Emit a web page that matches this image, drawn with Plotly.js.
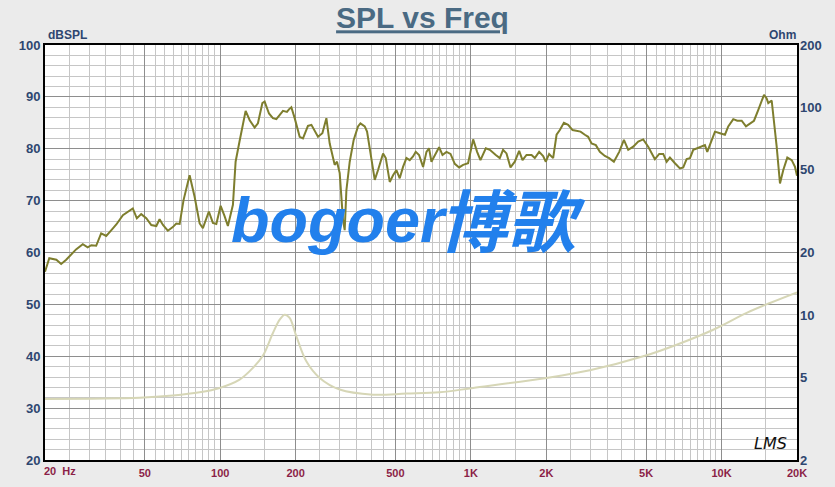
<!DOCTYPE html>
<html>
<head>
<meta charset="utf-8">
<script src="https://cdn.plot.ly/plotly-3.0.1.min.js"></script>
<style>
html,body{margin:0;padding:0;background:#EBEBEB;}
#chart{width:835px;height:487px;}
</style>
</head>
<body>
<div id="chart"></div>
<script>
// SPL response (Hz, dB SPL)
const splFreq = [20, 20.8, 22.2, 23.2, 24.3, 25.4, 26.6, 28.3, 29.6, 30.6,
  32.0, 33.5, 35.1, 36.8, 38.5, 40.9, 42.8, 44.8, 46.5, 48.4,
  50.7, 53.1, 55.6, 57.3, 59.1, 61.8, 64.7, 66.8, 68.9, 71.4,
  75.5, 79.0, 82.8, 85.3, 90.1, 93.5, 96.5, 100.4, 104.1, 107.3,
  112.4, 115.2, 119.5, 126.3, 131.1, 137.2, 141.4, 147.3, 150.4, 156.5,
  162.3, 167.5, 178, 184.6, 188.1, 192.2, 198.2, 207.5, 213.9, 223.9,
  231.1, 238.2, 245.5, 255.6, 265.2, 273.4, 286.2, 292.4, 299.7, 308.9,
  313.8, 318.7, 328.6, 340.8, 354.6, 362.6, 377.2, 385.3, 401.2, 413.6,
  426.3, 446.4, 457.6, 474.6, 489.3, 504.6, 520.2, 536.2, 553.4, 570.3,
  587.8, 602.6, 621.2, 644.6, 665, 681, 696.2, 717.6, 746.7, 770.4,
  799.3, 829.4, 862.7, 897.4, 931.2, 974.8, 1021, 1059, 1092, 1147,
  1190, 1257, 1304, 1344, 1387, 1439, 1497, 1558, 1607, 1667,
  1746, 1799, 1872, 1942, 1991, 2052, 2129, 2197, 2264, 2350,
  2444, 2545, 2640, 2738, 2849, 2937, 3030, 3152, 3270, 3424,
  3562, 3720, 3906, 4079, 4243, 4443, 4652, 4870, 5099, 5422,
  5642, 5853, 6039, 6224, 6517, 6823, 7034, 7257, 7482, 7711,
  7998, 8329, 8585, 8770, 8990, 9414, 9856, 10319, 10636, 11137,
  11554, 12032, 12516, 12985, 13472, 14016, 14460, 14770, 15136, 15361,
  15849, 16086, 16594, 17106, 17634, 18296, 19052, 19636, 20000];
const splDb = [56.3, 58.9, 58.6, 57.8, 58.6, 59.5, 60.6, 61.6, 61.0, 61.4,
  61.3, 63.7, 63.2, 64.3, 65.4, 67.2, 67.9, 68.5, 66.6, 67.4,
  66.6, 65.3, 65.1, 66.4, 65.3, 64.2, 64.9, 65.6, 65.5, 70.1,
  74.9, 70.8, 65.6, 64.7, 67.9, 65.7, 65.5, 69.0, 67.0, 65.1,
  69.2, 77.5, 81.5, 87.3, 85.5, 84.1, 84.9, 88.8, 89.1, 86.8,
  85.9, 85.7, 87.3, 87.1, 87.6, 88.0, 85.9, 82.3, 82.0, 84.4,
  84.6, 83.3, 82.3, 83.0, 85.9, 81.0, 76.9, 77.5, 75.3, 66.3,
  64.3, 72.0, 77.5, 81.7, 84.3, 84.9, 84.3, 83.3, 77.8, 74.0,
  75.9, 79.1, 78.2, 73.6, 74.9, 75.9, 74.3, 76.5, 78.2, 77.8,
  78.5, 79.4, 78.8, 76.5, 79.4, 80.1, 77.5, 78.8, 80.3, 78.8,
  79.4, 79.0, 77.1, 76.4, 76.9, 77.2, 81.8, 79.4, 77.8, 80.1,
  79.8, 78.8, 78.2, 79.8, 79.1, 76.4, 77.5, 79.6, 77.8, 78.8,
  78.8, 78.2, 79.4, 78.6, 77.5, 79.0, 78.2, 82.7, 83.6, 85.0,
  84.6, 83.6, 83.5, 83.3, 82.7, 82.3, 81.0, 80.7, 79.4, 78.6,
  78.2, 77.5, 79.4, 81.7, 79.8, 80.4, 81.4, 81.8, 80.4, 78.0,
  79.0, 79.0, 77.5, 78.3, 77.2, 76.2, 76.4, 78.0, 78.2, 79.8,
  80.1, 80.5, 80.7, 79.4, 80.7, 83.3, 83.0, 82.7, 84.3, 85.7,
  85.4, 85.4, 84.3, 84.8, 85.4, 87.5, 89.4, 90.4, 89.7, 88.8,
  89.3, 86.8, 80.4, 73.3, 75.9, 78.3, 77.8, 76.5, 74.8];

// Impedance (Hz, Ohm)
const impFreq = [20, 47.7, 64.7, 82.8, 99.5, 119.5, 135.1, 148.1, 162.3, 172.7,
  180.8, 189.2, 201.3, 220.6, 249.4, 299.7, 407, 553, 751, 1021,
  2004, 2984, 4870, 6622, 9268, 12596, 15606, 20000];
const impOhm = [3.94, 3.99, 4.09, 4.24, 4.45, 4.88, 5.56, 6.37, 8.19, 9.49,
  10.03, 9.67, 7.89, 5.98, 4.97, 4.37, 4.13, 4.18, 4.24, 4.45,
  4.97, 5.41, 6.32, 7.19, 8.49, 10.23, 11.42, 12.85];

// Axis ticks
const xTickVals = [20, 50, 100, 200, 500, 1000, 2000, 5000, 10000, 20000];
const xTickText = ['', '50', '100', '200', '500', '1K', '2K', '5K', '10K', '20K'];
const dbTickVals = [20, 30, 40, 50, 60, 70, 80, 90, 100];
const ohmTickVals = [2, 5, 10, 20, 50, 100, 200];
const ohmTickText = ['2', '5', '10', '20', '50', '100', '200'];

// minor vertical grid: half-steps within each decade
const xMinorVals = [];
[[10, 20, 100], [100, 100, 1000], [1000, 1000, 10000], [10000, 10000, 20000]].forEach(function (d) {
  for (let m = 1; m <= 10; m += 0.5) {
    const v = d[0] * m;
    if (v > d[1] && v < d[2] && xTickVals.indexOf(v) < 0) xMinorVals.push(v);
  }
});

const FONT = 'Liberation Sans, Arial, sans-serif';
const NAVY = '#2E4670';
const MAROON = '#8B1F47';

const traces = [
  {
    x: impFreq, y: impOhm, yaxis: 'y2', type: 'scatter', mode: 'lines',
    line: {color: '#D6D6B6', width: 2, shape: 'spline', smoothing: 1},
    hoverinfo: 'skip'
  },
  {
    x: splFreq, y: splDb, yaxis: 'y', type: 'scatter', mode: 'lines',
    line: {color: '#7E7E2E', width: 2},
    hoverinfo: 'skip'
  }
];

const layout = {
  width: 835, height: 487,
  margin: {l: 45, r: 38, t: 45, b: 27, pad: 0},
  paper_bgcolor: '#EBEBEB',
  plot_bgcolor: '#FFFFFF',
  showlegend: false,
  font: {family: FONT},
  title: {
    text: '<u>SPL vs Freq</u>',
    font: {family: FONT, size: 30, color: '#4A6A83', weight: 'bold'},
    xref: 'container', x: 0.506, xanchor: 'center',
    yref: 'container', y: 0.9634, yanchor: 'middle'
  },
  xaxis: {
    type: 'log',
    range: [Math.log10(20), Math.log10(20000)],
    tickmode: 'array', tickvals: xTickVals, ticktext: xTickText,
    ticks: '', ticklabelstandoff: 2,
    tickfont: {family: FONT, size: 11, color: MAROON, weight: 'bold'},
    showgrid: true, gridcolor: '#8E8E8E', gridwidth: 1,
    minor: {tickmode: 'array', tickvals: xMinorVals, showgrid: true, gridcolor: '#C6C6C6', gridwidth: 1, ticks: ''},
    showline: true, linecolor: '#000000', linewidth: 2, mirror: true,
    zeroline: false, fixedrange: true
  },
  yaxis: {
    range: [20, 100],
    tickmode: 'array', tickvals: dbTickVals,
    ticks: '',
    tickfont: {family: FONT, size: 13, color: NAVY, weight: 'bold'},
    showgrid: true, gridcolor: '#8E8E8E', gridwidth: 1,
    minor: {dtick: 2, showgrid: true, gridcolor: '#C6C6C6', gridwidth: 1, ticks: ''},
    showline: true, linecolor: '#000000', linewidth: 2, mirror: true,
    zeroline: false, fixedrange: true
  },
  yaxis2: {
    type: 'log', overlaying: 'y', side: 'right',
    range: [Math.log10(2), Math.log10(200)],
    tickmode: 'array', tickvals: ohmTickVals, ticktext: ohmTickText,
    ticks: '', ticklabelstandoff: 2,
    tickfont: {family: FONT, size: 13, color: NAVY, weight: 'bold'},
    showgrid: false, zeroline: false, showline: false, fixedrange: true
  },
  annotations: [
    {text: 'dBSPL', xref: 'paper', yref: 'paper', x: 0, y: 1, xanchor: 'left', yanchor: 'middle',
     xshift: 1, yshift: 10, showarrow: false,
     font: {family: FONT, size: 12, color: NAVY, weight: 'bold'}},
    {text: 'Ohm', xref: 'paper', yref: 'paper', x: 1, y: 1, xanchor: 'right', yanchor: 'middle',
     xshift: 1, yshift: 10, showarrow: false,
     font: {family: FONT, size: 12, color: NAVY, weight: 'bold'}},
    {text: '20\u00A0\u00A0Hz', xref: 'paper', yref: 'paper', x: 0, y: 0, xanchor: 'left', yanchor: 'middle',
     xshift: -3, yshift: -11, showarrow: false,
     font: {family: FONT, size: 11, color: MAROON, weight: 'bold'}},
    {text: 'bogoer', xref: 'paper', yref: 'paper', x: 0.392, y: 0.579, xanchor: 'center', yanchor: 'middle',
     showarrow: false,
     font: {family: FONT, size: 63, color: '#2280EC', weight: 'bold', style: 'italic'}},
    {text: '博歌', xref: 'paper', yref: 'paper', x: 0.622, y: 0.585, xanchor: 'center', yanchor: 'middle',
     showarrow: false,
     font: {family: 'Noto Sans CJK SC, sans-serif', size: 68, color: '#2280EC', weight: 'bold', style: 'italic'}},
    {text: 'LMS', xref: 'paper', yref: 'paper', x: 0.965, y: 0.04, xanchor: 'center', yanchor: 'middle',
     showarrow: false,
     font: {family: 'DejaVu Sans, sans-serif', size: 16, color: '#111111', style: 'italic'}}
  ]
};

Plotly.newPlot('chart', traces, layout, {staticPlot: true, displayModeBar: false});
</script>
</body>
</html>
